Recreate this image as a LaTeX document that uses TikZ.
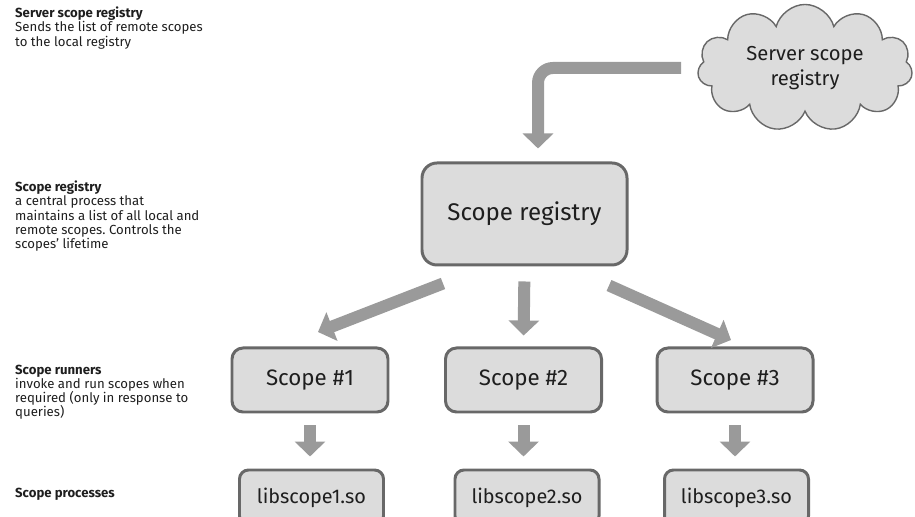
\documentclass[tikz,border=0pt]{standalone}
\usepackage{fontspec}
\setmainfont{Fira Sans}
\usepackage{tikz}
\usetikzlibrary{arrows.meta,calc,positioning,shapes.symbols}
\definecolor{boxfill}{HTML}{DCDCDC}
\definecolor{boxline}{HTML}{686868}
\definecolor{flowgray}{HTML}{9A9A9A}
\definecolor{inkgray}{HTML}{1E1E1E}
\frenchspacing

\begin{document}
\begin{tikzpicture}[
    box/.style={draw=boxline,line width=1.7pt,fill=boxfill,rounded corners=#1,text=inkgray,align=center},
    flow/.style={draw=flowgray,line width=0.24cm,-{Triangle[width=0.6cm,length=0.3cm]}},
    note/.style={anchor=north west,align=left,text=inkgray,font=\fontsize{7.5}{8}\selectfont}
  ]
  \path[use as bounding box,clip] (0,0) rectangle (18.3,10.34);

  % side notes
  \node[note] (noteserver) at (0.18,10.32) {\textbf{Server scope registry}\\Sends the list of remote scopes\\to the local registry};
  \node[note] (noteregistry) at (0.18,6.84) {\textbf{Scope registry}\\a central process that\\maintains a list of all local and\\remote scopes. Controls the\\scopes' lifetime};
  \node[note] (noterunners) at (0.18,3.16) {\textbf{Scope runners}\\invoke and run scopes when\\required (only in response to\\queries)};
  \node[note] (noteprocs) at (0.18,0.70) {\textbf{Scope processes}};

  % boxes
  \node[cloud,cloud puffs=11,aspect=2,draw=boxline,line width=0.8pt,fill=boxfill,text=inkgray,align=center,
        minimum width=4.3cm,minimum height=2.1cm,font=\fontsize{11.5}{14}\selectfont] (server) at (16.1,8.98) {Server scope\\registry};
  \node[box=0.3cm,minimum width=4.1cm,minimum height=2.04cm,font=\fontsize{13.7}{16}\selectfont] (registry) at (10.49,6.06) {Scope registry};
  \node[box=0.22cm,minimum width=3.12cm,minimum height=1.28cm,font=\fontsize{12.7}{15}\selectfont] (scope1) at (6.2,2.74) {Scope \#1};
  \node[box=0.22cm,minimum width=3.12cm,minimum height=1.28cm,font=\fontsize{12.7}{15}\selectfont] (scope2) at (10.47,2.74) {Scope \#2};
  \node[box=0.22cm,minimum width=3.12cm,minimum height=1.28cm,font=\fontsize{12.7}{15}\selectfont] (scope3) at (14.7,2.74) {Scope \#3};
  \foreach \i/\x in {1/6.23,2/10.54,3/14.73}
    \node[box=0.18cm,minimum width=2.88cm,minimum height=1.1cm,font=\fontsize{11.3}{13}\selectfont] (lib\i) at (\x,0.39) {libscope\i.so};

  % arrows
  \draw[flow,rounded corners=0.3cm,shorten <=0.34cm] (server.west) -| ([xshift=0.27cm,yshift=0.26cm]registry.north);
  \draw[flow] ($(registry.south)+(-1.63,-0.34)$) -- ($(scope1.north)+(0.16,0.29)$);
  \draw[flow,shorten <=0.3cm,shorten >=0.22cm] (registry.south) -- (scope2.north);
  \draw[flow] ($(registry.south)+(1.69,-0.38)$) -- ($(scope3.north)+(-0.08,0.13)$);
  \foreach \i in {1,2,3}
    \draw[flow,shorten <=0.24cm,shorten >=0.24cm] (scope\i.south) -- (scope\i.south |- lib\i.north);
\end{tikzpicture}
\end{document}
